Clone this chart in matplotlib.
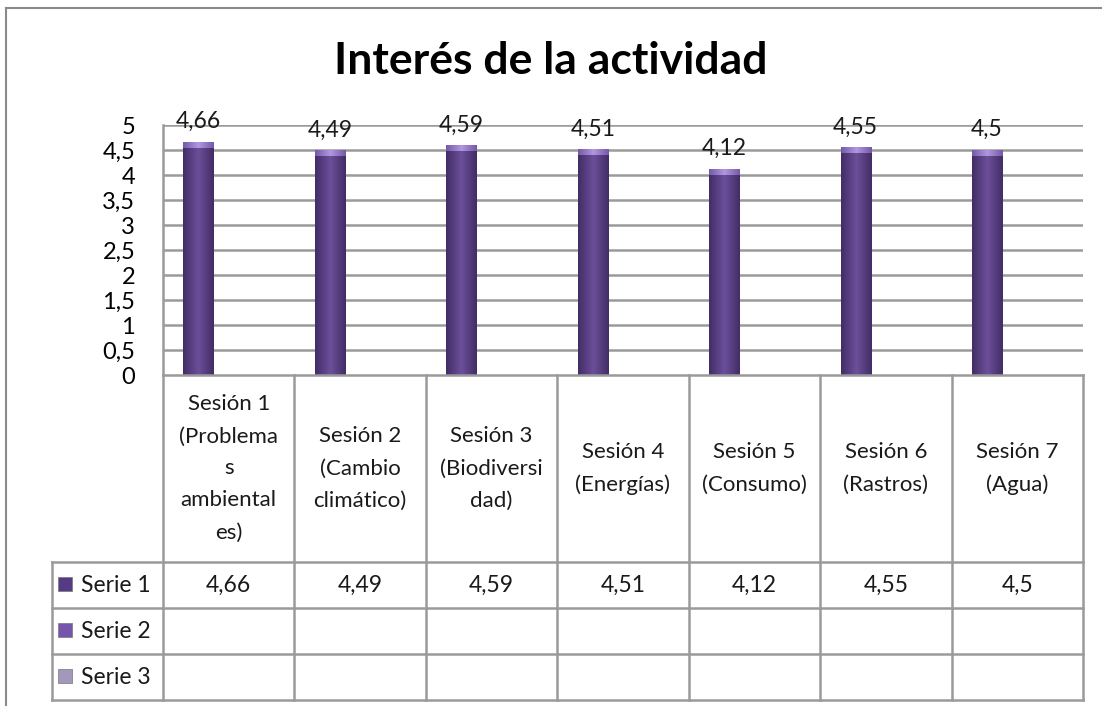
import numpy as np
import matplotlib.pyplot as plt
from matplotlib.colors import LinearSegmentedColormap
from matplotlib.lines import Line2D

# data
sesiones = ['Sesión 1\n(Problema\ns\nambiental\nes)', 'Sesión 2\n(Cambio\nclimático)',
            'Sesión 3\n(Biodiversi\ndad)', 'Sesión 4\n(Energías)', 'Sesión 5\n(Consumo)',
            'Sesión 6\n(Rastros)', 'Sesión 7\n(Agua)']
serie1 = [4.66, 4.49, 4.59, 4.51, 4.12, 4.55, 4.5]
series = ['Serie 1', 'Serie 2', 'Serie 3']
yticks = [0, 0.5, 1, 1.5, 2, 2.5, 3, 3.5, 4, 4.5, 5]

def coma(v):
    return ('%g' % v).replace('.', ',')

plt.rcParams['font.family'] = ['Lato', 'DejaVu Sans']
W, H = 1102, 706
fig = plt.figure(figsize=(W / 100, H / 100), dpi=100)

# chart frame (top and left edge visible)
fig.add_artist(Line2D([6 / W, 6 / W], [0, 1 - 8 / H], color='#8a8a8a', lw=1.5))
fig.add_artist(Line2D([6 / W, 1], [1 - 8 / H, 1 - 8 / H], color='#8a8a8a', lw=1.5))

fig.text(0.5, 1 - 61 / H, 'Interés de la actividad', ha='center', va='center',
         fontsize=32, fontweight='bold')

ax = fig.add_axes([163 / W, 1 - 375 / H, 920 / W, 250 / H])
x = np.arange(len(serie1))
bw = 0.23
off = -bw

cmap = LinearSegmentedColormap.from_list('bar', ['#422d66', '#6c4f9a', '#422d66'])
capmap = LinearSegmentedColormap.from_list('cap', ['#7459a8', '#b298e0', '#7459a8'])
grad = np.linspace(0, 1, 64).reshape(1, -1)
for xi, v in zip(x, serie1):
    x0, x1 = xi + off - bw / 2, xi + off + bw / 2
    ax.imshow(grad, cmap=cmap, extent=(x0, x1, 0, v), aspect='auto', zorder=3)
    ax.imshow(grad, cmap=capmap, extent=(x0, x1, v - 0.12, v), aspect='auto', zorder=4)
    ax.text(xi + off, v + 0.2, coma(v), ha='center', va='bottom', fontsize=16.5,
            color='#1a1a1a')

ax.set_yticks(yticks)
ax.set_yticklabels([coma(t) for t in yticks], fontsize=17)
ax.tick_params(axis='y', length=0, pad=20)
ax.set_xticks([])
for t in yticks[1:]:
    ax.axhline(t, color='#9a9a9a', lw=1.8, zorder=1)
for s in ['top', 'right', 'bottom']:
    ax.spines[s].set_visible(False)
ax.spines['left'].set_color('#9a9a9a')
ax.spines['left'].set_linewidth(1.8)
ax.set_xlim(-0.5, len(serie1) - 0.5)
ax.set_ylim(0, 5)

# data table under the chart
tb = fig.add_axes([163 / W, 6 / H, 920 / W, 325 / H])
tb.set_xlim(-0.5, len(serie1) - 0.5)
tb.set_ylim(325, 0)
tb.axis('off')
rows = [0, 187, 233, 279, 325]
left = -0.5 - 111 / (920 / len(serie1))
lc = '#9a9a9a'
kw = dict(color=lc, lw=1.8, clip_on=False)
tb.plot([-0.5, len(serie1) - 0.5], [0, 0], **kw)
for r in rows[1:]:
    tb.plot([left, len(serie1) - 0.5], [r, r], **kw)
for c in np.arange(len(serie1) + 1) - 0.5:
    tb.plot([c, c], [0, rows[-1]], **kw)
tb.plot([left, left], [rows[1], rows[-1]], **kw)

for xi, lab in zip(x, sesiones):
    tb.text(xi, rows[1] / 2, lab, ha='center', va='center', fontsize=16,
            linespacing=1.75, color='#1a1a1a')
for xi, v in zip(x, serie1):
    tb.text(xi, (rows[1] + rows[2]) / 2, coma(v), ha='center', va='center',
            fontsize=16.5, color='#1a1a1a')

sw_col = ['#553a85', '#7656ad', '#a397bd']
for i, (name, col) in enumerate(zip(series, sw_col)):
    yc = (rows[i + 1] + rows[i + 2]) / 2
    tb.scatter([left + 0.1], [yc - 1], marker='s', s=110, color=col, clip_on=False,
               edgecolors='#777777', linewidths=0.5)
    tb.text(left + 0.22, yc, name, ha='left', va='center', fontsize=16.5,
            color='#1a1a1a', clip_on=False)

fig.savefig('out.png', dpi=100)
